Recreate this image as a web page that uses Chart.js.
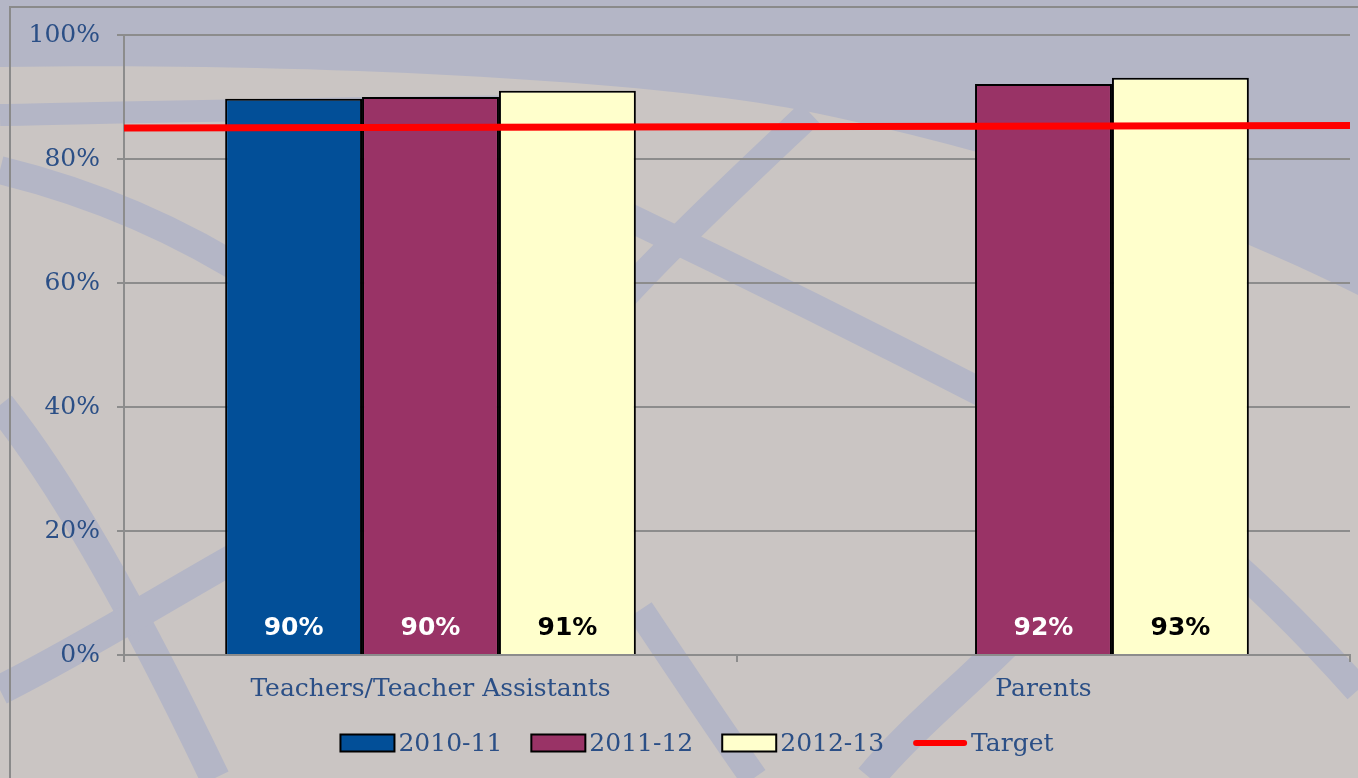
<!DOCTYPE html>
<html>
<head>
<meta charset="utf-8">
<title>Survey results</title>
<script src="https://cdn.jsdelivr.net/npm/chart.js@4"></script>
<style>
  html, body { margin: 0; padding: 0; background: #cbc6c4; }
  #wrap { position: relative; width: 1358px; height: 778px; }
</style>
</head>
<body>
<div id="wrap"><canvas id="surveyChart" width="1358" height="778"></canvas></div>
<script>
const groups = ["Teachers/Teacher Assistants", "Parents"];
const years = ["2010-11", "2011-12", "2012-13"];
const values2010 = [89.7, null];
const values2011 = [90.0, 92.1];
const values2012 = [91.0, 93.1];
const targetValues = [85.0, 85.4]; // left end, right end
const yTicks = [0, 20, 40, 60, 80, 100];

const barColors = ["#024f98", "#993366", "#ffffcc"];
const labelColors = ["#ffffff", "#ffffff", "#000000"];
const textBlue = "#2b4f86";
const gridGray = "#8c8c8c";
const serifFamily = "'DejaVu Serif', 'Liberation Serif', serif";

// background: lavender-grey with the faint curved strokes
const backdrop = {
  id: "backdrop",
  beforeDraw(chart) {
    const ctx = chart.ctx;
    const w = chart.width, h = chart.height;
    ctx.save();
    ctx.fillStyle = "#cac5c3";
    ctx.fillRect(0, 0, w, h);

    ctx.fillStyle = "#b4b6c6";
    ctx.beginPath();
    ctx.moveTo(0, 0);
    ctx.lineTo(w, 0);
    ctx.lineTo(w, 295);
    ctx.bezierCurveTo(1200, 215, 1000, 150, 800, 110);
    ctx.bezierCurveTo(650, 80, 300, 62, 0, 67);
    ctx.closePath();
    ctx.fill();

    ctx.strokeStyle = "#b4b6c6";
    ctx.lineCap = "butt";
    const strokes = [
      { w: 22, p: [0, 115, 150, 112, 400, 106, 600, 106] },
      { w: 28, p: [0, 170, 90, 192, 180, 230, 260, 282] },
      { w: 28, p: [620, 213, 760, 280, 880, 340, 1000, 402] },
      { w: 28, p: [1000, 402, 1150, 480, 1260, 580, 1358, 690] },
      { w: 30, p: [0, 405, 60, 480, 130, 600, 215, 778] },
      { w: 30, p: [0, 690, 80, 650, 160, 600, 240, 555] },
      { w: 28, p: [620, 300, 680, 235, 750, 170, 810, 113] },
      { w: 30, p: [870, 778, 910, 730, 960, 690, 1010, 640] },
      { w: 28, p: [640, 610, 680, 670, 720, 730, 754, 778] }
    ];
    strokes.forEach(s => {
      ctx.lineWidth = s.w;
      ctx.beginPath();
      ctx.moveTo(s.p[0], s.p[1]);
      ctx.bezierCurveTo(s.p[2], s.p[3], s.p[4], s.p[5], s.p[6], s.p[7]);
      ctx.stroke();
    });

    // outer frame
    ctx.strokeStyle = "#8a8a8a";
    ctx.lineWidth = 2;
    ctx.strokeRect(10, 7, w + 20, h + 20);
    ctx.restore();
  }
};

// target line across the whole plot width
const targetLine = {
  id: "targetLine",
  afterDatasetsDraw(chart) {
    const { ctx, chartArea, scales } = chart;
    ctx.save();
    ctx.strokeStyle = "#ff0000";
    ctx.lineWidth = 7;
    ctx.beginPath();
    ctx.moveTo(chartArea.left, scales.y.getPixelForValue(targetValues[0]));
    ctx.lineTo(chartArea.right, scales.y.getPixelForValue(targetValues[1]));
    ctx.stroke();
    ctx.restore();
  }
};

// value labels sitting at the foot of each bar
const barLabels = {
  id: "barLabels",
  afterDraw(chart) {
    const ctx = chart.ctx;
    const base = chart.scales.y.getPixelForValue(0);
    ctx.save();
    ctx.font = "bold 25px 'DejaVu Sans', Verdana, sans-serif";
    ctx.textAlign = "center";
    ctx.textBaseline = "middle";
    [0, 1, 2].forEach(di => {
      const meta = chart.getDatasetMeta(di);
      meta.data.forEach((bar, i) => {
        const v = chart.data.datasets[di].data[i];
        if (v == null) return;
        ctx.fillStyle = labelColors[di];
        ctx.fillText(Math.round(v) + "%", bar.x, base - 27);
      });
    });
    ctx.restore();
  }
};

// legend row under the axis: boxes for the years, a red stroke for the target
const legendRow = {
  id: "legendRow",
  afterDraw(chart) {
    const ctx = chart.ctx;
    const ds = chart.data.datasets;
    const boxW = 54, boxH = 17, textGap = 4, itemGap = 29;
    const y = 743;
    ctx.save();
    ctx.font = "25px " + serifFamily;
    ctx.textBaseline = "middle";
    const widths = ds.map(d => boxW + textGap + ctx.measureText(d.label).width);
    const total = widths.reduce((a, b) => a + b, 0) + itemGap * (ds.length - 1);
    let x = (chart.chartArea.left + chart.chartArea.right) / 2 - 40 - total / 2;
    ds.forEach((d, i) => {
      if (d.type === "line") {
        ctx.strokeStyle = d.borderColor;
        ctx.lineWidth = 6;
        ctx.lineCap = "round";
        ctx.beginPath();
        ctx.moveTo(x + 3, y);
        ctx.lineTo(x + boxW - 3, y);
        ctx.stroke();
      } else {
        ctx.fillStyle = d.backgroundColor;
        ctx.fillRect(x, y - boxH / 2, boxW, boxH);
        ctx.strokeStyle = "#000";
        ctx.lineWidth = 2;
        ctx.strokeRect(x, y - boxH / 2, boxW, boxH);
      }
      ctx.fillStyle = textBlue;
      ctx.fillText(d.label, x + boxW + textGap, y + 1);
      x += widths[i] + itemGap;
    });
    ctx.restore();
  }
};

const serif = { family: serifFamily, size: 25 };

new Chart(document.getElementById("surveyChart"), {
  type: "bar",
  data: {
    labels: groups,
    datasets: [
      { label: years[0], data: values2010, backgroundColor: barColors[0], borderColor: "#000", borderWidth: 2 },
      { label: years[1], data: values2011, backgroundColor: barColors[1], borderColor: "#000", borderWidth: 2 },
      { label: years[2], data: values2012, backgroundColor: barColors[2], borderColor: "#000", borderWidth: 2 },
      { label: "Target", type: "line", data: [], borderColor: "#ff0000", backgroundColor: "#ff0000", borderWidth: 6 }
    ]
  },
  options: {
    responsive: false,
    animation: false,
    events: [],
    layout: { padding: { top: 35, right: 8, left: 0, bottom: 0 } },
    datasets: { bar: { categoryPercentage: 0.67, barPercentage: 1.0, borderSkipped: "bottom" } },
    scales: {
      x: {
        offset: true,
        afterFit(scale) { scale.height = 123; },
        grid: { offset: true, drawOnChartArea: false, drawTicks: true, tickLength: 7, color: gridGray, lineWidth: 2 },
        border: { color: gridGray, width: 2 },
        ticks: { color: textBlue, font: serif, padding: 12 }
      },
      y: {
        min: 0,
        max: 100,
        afterBuildTicks(scale) { scale.ticks = yTicks.map(v => ({ value: v })); },
        afterFit(scale) { scale.width = 124; },
        grid: { color: gridGray, lineWidth: 2, tickLength: 7 },
        border: { color: gridGray, width: 2 },
        ticks: { color: textBlue, font: serif, padding: 17, callback: v => v + "%" }
      }
    },
    plugins: {
      tooltip: { enabled: false },
      legend: { display: false }
    }
  },
  plugins: [backdrop, targetLine, barLabels, legendRow]
});
</script>
</body>
</html>
